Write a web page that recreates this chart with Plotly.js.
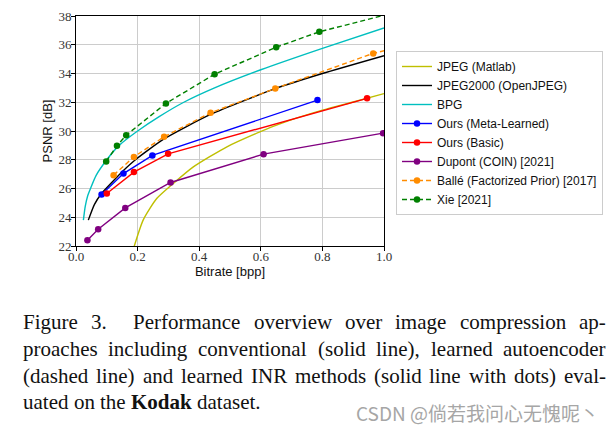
<!DOCTYPE html>
<html>
<head>
<meta charset="utf-8">
<script src="https://cdn.plot.ly/plotly-3.0.1.min.js"></script>
<style>html,body{margin:0;padding:0;background:#fff;}#chart{width:616px;height:430px;}</style>
</head>
<body>
<div id="chart"></div>
<script>
// ---- data ----
const jpegX = [0.185, 0.218, 0.262, 0.316, 0.381, 0.49, 0.597, 0.662, 0.8, 0.9, 1.0];
const jpegY = [21.7, 23.8, 25.3, 26.35, 27.5, 28.9, 29.94, 30.5, 31.45, 32.02, 32.6];

const j2kX = [0.04, 0.06, 0.083, 0.12, 0.154, 0.19, 0.286, 0.437, 0.647, 0.8, 1.0];
const j2kY = [23.8, 24.9, 25.65, 26.5, 27.25, 27.95, 29.45, 31.15, 32.95, 34.0, 35.24];

const bpgX = [0.024, 0.03, 0.038, 0.047, 0.065, 0.1, 0.14, 0.2, 0.27, 0.35, 0.45, 0.6, 0.8, 1.0];
const bpgY = [23.8, 24.75, 25.5, 26.0, 26.9, 28.0, 29.0, 30.0, 31.0, 32.0, 33.0, 34.26, 35.75, 37.17];

const metaX = [0.083, 0.154, 0.248, 0.784];
const metaY = [25.58, 27.04, 28.3, 32.15];

const basicX = [0.1, 0.188, 0.299, 0.945];
const basicY = [25.65, 27.14, 28.41, 32.27];

const coinX = [0.037, 0.072, 0.16, 0.307, 0.609, 0.997];
const coinY = [22.4, 23.17, 24.65, 26.42, 28.39, 29.85];

const balleX = [0.122, 0.188, 0.286, 0.437, 0.647, 0.965, 1.1];
const balleY = [26.93, 28.2, 29.6, 31.27, 32.96, 35.4, 36.1];

const xieX = [0.098, 0.133, 0.163, 0.292, 0.45, 0.65, 0.79, 1.1];
const xieY = [27.88, 28.97, 29.71, 31.92, 33.95, 35.83, 36.9, 38.6];

const names = ['JPEG (Matlab)', 'JPEG2000 (OpenJPEG)', 'BPG', 'Ours (Meta-Learned)', 'Ours (Basic)',
               'Dupont (COIN) [2021]', 'Ballé (Factorized Prior) [2017]', 'Xie [2021]'];
const xTicks = [0.0, 0.2, 0.4, 0.6, 0.8, 1.0];
const xTickText = ['0.0', '0.2', '0.4', '0.6', '0.8', '1.0'];
const yTicks = [22, 24, 26, 28, 30, 32, 34, 36, 38];

const captionLines = [
  ['Figure', '3.', 'Performance', 'overview', 'over', 'image', 'compression', 'ap-'],
  ['proaches', 'including', 'conventional', '(solid', 'line),', 'learned', 'autoencoder'],
  ['(dashed', 'line)', 'and', 'learned', 'INR', 'methods', '(solid', 'line', 'with', 'dots)', 'eval-'],
  ['uated', 'on', 'the', '**Kodak**', 'dataset.']
];
const watermark = 'CSDN @倘若我问心无愧呢丶';

// ---- layout constants ----
const W = 616, H = 430;
const plotL = 76, plotR = 384, plotT = 16, plotB = 246;
const pw = plotR - plotL, ph = plotB - plotT;
const px2paperX = p => (p - plotL) / pw;
const px2paperY = p => (plotB - p) / ph;

function lineTrace(x, y, name, color, smooth) {
  return {x, y, name, type: 'scatter', mode: 'lines',
          line: {color, width: 1.4, shape: smooth ? 'spline' : 'linear', smoothing: 0.6}};
}
function dotTrace(x, y, name, color, dash) {
  return {x, y, name, type: 'scatter', mode: 'lines+markers',
          line: {color, width: 1.4, dash: dash ? '5px,3px' : 'solid'},
          marker: {color, size: 6.5}};
}

const traces = [
  lineTrace(jpegX, jpegY, names[0], '#bfbf00', true),
  lineTrace(j2kX, j2kY, names[1], '#000000', true),
  lineTrace(bpgX, bpgY, names[2], '#00bfbf', true),
  dotTrace(metaX, metaY, names[3], '#0000ff', false),
  dotTrace(basicX, basicY, names[4], '#ff0000', false),
  dotTrace(coinX, coinY, names[5], '#800080', false),
  dotTrace(balleX, balleY, names[6], '#ff8c00', true),
  dotTrace(xieX, xieY, names[7], '#008000', true)
];

// ---- caption (justified, measured with canvas) ----
const capFont = 'Liberation Serif';
const capSize = 21;
const canvas = document.createElement('canvas');
const ctx = canvas.getContext('2d');
function measure(word) {
  const bold = word.startsWith('**');
  const w = bold ? word.slice(2, -2) : word;
  ctx.font = (bold ? 'bold ' : '') + capSize + 'px "' + capFont + '"';
  return ctx.measureText(w).width;
}
const capLeft = 22, capRight = 605;
const capY = [322, 349, 376, 402];
const annotations = [];
captionLines.forEach((words, li) => {
  const widths = words.map(measure);
  const total = widths.reduce((a, b) => a + b, 0);
  const last = li === captionLines.length - 1;
  const weights = words.slice(0, -1).map((w, i) => (li === 0 && i === 1) ? 2 : 1);
  const wsum = weights.reduce((a, b) => a + b, 0);
  ctx.font = capSize + 'px "' + capFont + '"';
  const spaceW = ctx.measureText(' ').width;
  const unit = last ? spaceW : (capRight - capLeft - total) / wsum;
  let x = capLeft;
  words.forEach((w, i) => {
    const bold = w.startsWith('**');
    annotations.push({
      xref: 'paper', yref: 'paper', showarrow: false,
      x: px2paperX(x - 1), y: px2paperY(capY[li]), xanchor: 'left', yanchor: 'middle',
      text: bold ? '<b>' + w.slice(2, -2) + '</b>' : w,
      font: {family: capFont, size: capSize, color: '#111'}
    });
    x += widths[i] + (i < weights.length ? weights[i] * unit : 0);
  });
});
annotations.push({
  xref: 'paper', yref: 'paper', showarrow: false,
  x: px2paperX(601), y: px2paperY(412), xanchor: 'right', yanchor: 'middle',
  text: watermark,
  font: {family: 'Noto Sans CJK SC', size: 19, color: '#a6a6a6'}
});

const axisCommon = {
  showline: true, mirror: true, linecolor: '#000', linewidth: 1,
  ticks: 'outside', ticklen: 4, tickwidth: 1, tickcolor: '#000',
  showgrid: true, gridcolor: '#cccccc', gridwidth: 1, zeroline: false,
  tickfont: {family: 'Liberation Serif', size: 13, color: '#333'}
};

const layout = {
  width: W, height: H,
  margin: {l: plotL, r: W - plotR, t: plotT, b: H - plotB, pad: 0},
  paper_bgcolor: '#fff', plot_bgcolor: '#fff',
  showlegend: true,
  legend: {
    x: px2paperX(396), y: px2paperY(51), xanchor: 'left', yanchor: 'top',
    bgcolor: '#fff', bordercolor: '#cccccc', borderwidth: 1,
    font: {family: 'Liberation Sans', size: 12, color: '#111'},
    tracegroupgap: 0
  },
  xaxis: Object.assign({}, axisCommon, {
    range: [0, 1], tickvals: xTicks, ticktext: xTickText, ticklabelstandoff: -6,
    title: {text: 'Bitrate [bpp]', standoff: 4, font: {family: 'Liberation Sans', size: 13, color: '#111'}}
  }),
  yaxis: Object.assign({}, axisCommon, {
    range: [22, 38], tickvals: yTicks, ticklabelstandoff: -3,
    title: {text: 'PSNR [dB]', standoff: 2, font: {family: 'Liberation Sans', size: 13, color: '#111'}}
  }),
  annotations
};

Plotly.newPlot('chart', traces, layout, {displayModeBar: false, staticPlot: true});
</script>
</body>
</html>
